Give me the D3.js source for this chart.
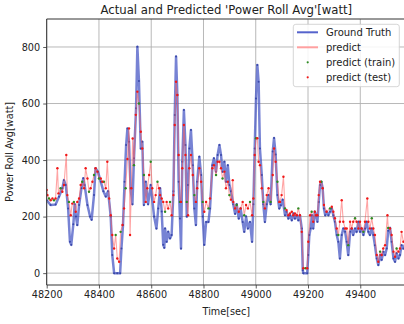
<!DOCTYPE html>
<html><head><meta charset="utf-8">
<script src="https://cdn.jsdelivr.net/npm/d3@7"></script>
<style>body{margin:0;background:#fff}svg{display:block;font-family:"DejaVu Sans",sans-serif}</style>
</head><body><svg id="c" width="404" height="324"></svg>
<script>
const title = "Actual and Predicted 'Power Roll Avg'[watt]";
const xLabel = "Time[sec]";
const yLabel = "Power Roll Avg[watt]";
const xTicks = [48200,48400,48600,48800,49000,49200,49400];
const yTicks = [0,200,400,600,800];
const legendLabels = ["Ground Truth","predict","predict (train)","predict (test)"];

const truthT = [48200,48215,48234,48247,48260,48266,48273,48282,48289,48294,48302,48307,48312,48317,48324,48333,48340,48345,48356,48366,48372,48381,48387,48396,48407,48417,48426,48435,48445,48451,48458,48470,48481,48486,48492,48498,48504,48509,48515,48521,48528,48534,48542,48547,48553,48560,48566,48572,48579,48588,48598,48611,48620,48627,48634,48640,48646,48650,48653,48659,48665,48672,48678,48685,48690,48695,48700,48705,48710,48714,48719,48725,48731,48736,48741,48746,48752,48759,48765,48771,48776,48784,48791,48797,48803,48810,48819,48825,48834,48840,48848,48854,48861,48867,48873,48880,48886,48893,48899,48905,48914,48921,48927,48935,48942,48950,48956,48963,48970,48978,48986,48991,48996,49001,49006,49011,49016,49023,49029,49035,49042,49049,49057,49065,49070,49076,49083,49090,49096,49103,49112,49118,49125,49131,49138,49144,49150,49157,49163,49169,49176,49180,49182,49197,49201,49205,49210,49215,49220,49226,49231,49236,49241,49246,49251,49256,49261,49266,49271,49278,49284,49291,49297,49303,49310,49316,49322,49329,49335,49342,49348,49354,49361,49367,49373,49380,49386,49393,49399,49405,49412,49418,49424,49431,49437,49444,49450,49456,49463,49469,49476,49482,49488,49495,49501,49507,49514,49520,49527,49533,49539,49546,49552,49558,49565,49575];
const truthV = [258,241,243,270,300,329,312,229,111,100,173,244,200,170,241,300,336,312,241,200,189,276,371,359,323,290,271,290,200,64,0,0,0,87,170,323,453,512,465,300,244,406,583,801,680,441,465,241,323,244,312,200,158,229,300,218,100,90,158,111,146,123,135,290,559,766,630,323,193,87,394,577,453,200,312,441,506,382,229,170,323,412,347,200,100,181,181,229,382,406,359,418,453,418,359,394,323,382,312,290,244,210,244,193,229,181,146,200,158,181,111,244,441,618,736,677,441,347,244,181,244,276,244,430,478,420,276,229,240,260,205,217,193,205,187,211,193,205,187,205,158,10,0,0,64,135,158,205,158,217,205,182,252,312,323,300,229,205,217,205,217,229,205,182,135,111,52,135,158,146,111,64,146,158,135,158,146,182,146,158,135,158,182,146,135,158,135,99,52,29,64,47,76,64,87,150,160,111,52,40,70,52,64,99,87,110];

const predT = [48200,48203,48209,48215,48222,48228,48234,48241,48245,48253,48260,48266,48275,48279,48285,48292,48298,48304,48311,48317,48324,48330,48336,48343,48349,48356,48362,48368,48375,48381,48387,48394,48400,48407,48413,48419,48426,48432,48439,48445,48451,48458,48464,48470,48477,48483,48490,48496,48502,48509,48515,48519,48524,48529,48534,48541,48547,48553,48560,48566,48572,48579,48585,48592,48598,48604,48611,48617,48624,48630,48634,48640,48646,48653,48659,48665,48672,48678,48685,48690,48695,48700,48705,48710,48714,48719,48725,48731,48736,48741,48746,48752,48759,48765,48771,48776,48784,48791,48797,48803,48810,48819,48825,48834,48840,48848,48854,48861,48867,48873,48880,48886,48893,48899,48905,48912,48914,48921,48927,48935,48942,48950,48956,48963,48970,48978,48986,48991,48996,49001,49006,49011,49016,49023,49029,49035,49042,49049,49057,49065,49070,49076,49083,49090,49093,49099,49106,49112,49118,49125,49131,49138,49144,49150,49157,49163,49169,49176,49182,49190,49197,49201,49208,49214,49220,49226,49231,49236,49241,49246,49251,49256,49261,49271,49284,49291,49297,49303,49310,49316,49322,49329,49335,49342,49348,49354,49361,49367,49373,49380,49386,49393,49399,49405,49412,49418,49427,49431,49437,49444,49450,49456,49463,49469,49476,49482,49488,49495,49504,49507,49514,49520,49527,49533,49539,49546,49552,49558,49565,49574];
const predV = [294,276,264,258,264,258,264,371,282,300,288,312,418,276,252,205,246,252,217,252,264,312,323,300,371,335,288,300,323,347,371,359,335,335,323,323,300,394,264,205,135,87,135,52,40,146,170,229,300,404,512,135,300,476,382,560,642,600,500,441,347,252,300,347,394,300,252,276,323,300,276,264,252,217,252,229,252,205,276,524,677,630,418,252,252,371,524,418,252,205,371,418,347,276,252,300,371,323,252,217,252,229,264,371,382,347,394,394,371,335,359,300,323,276,260,329,252,229,241,217,229,252,205,241,229,252,205,264,418,477,477,394,382,300,252,229,276,300,252,347,441,394,323,252,252,276,341,229,223,205,211,217,205,211,205,229,205,146,17,17,17,111,205,217,182,217,205,205,276,323,323,300,241,217,229,235,217,194,158,135,182,258,182,158,158,99,182,158,182,194,182,158,182,158,146,182,264,182,158,194,158,135,64,40,76,64,87,99,205,160,158,135,76,58,87,76,87,146,111,120];
const trainT = [48209,48228,48253,48285,48304,48336,48362,48381,48400,48419,48464,48483,48502,48534,48553,48572,48598,48624,48653,48672,48710,48736,48765,48797,48819,48848,48873,48899,48927,48956,48978,49001,49029,49057,49083,49112,49163,49190,49214,49251,49284,49316,49354,49380,49412,49444,49476,49507,49539];

const svg = d3.select("#c");
const m = {left:46.7, top:19, right:406, bottom:285};
const x = d3.scaleLinear().domain([48200,49575]).range([m.left,m.right]);
const y = d3.scaleLinear().domain([-42,899]).range([m.bottom,m.top]);

svg.append("defs").append("clipPath").attr("id","clip").append("rect")
  .attr("x",m.left).attr("y",m.top).attr("width",m.right-m.left).attr("height",m.bottom-m.top);

const g = svg.append("g");
g.selectAll(".gx").data(xTicks).join("line").attr("x1",d=>x(d)).attr("x2",d=>x(d))
  .attr("y1",m.top).attr("y2",m.bottom).attr("stroke","#b0b0b0").attr("stroke-width",0.9);
g.selectAll(".gy").data(yTicks).join("line").attr("y1",d=>y(d)).attr("y2",d=>y(d))
  .attr("x1",m.left).attr("x2",m.right).attr("stroke","#b0b0b0").attr("stroke-width",0.9);

const plot = svg.append("g").attr("clip-path","url(#clip)");
const truth = truthT.map((t,i)=>[t,truthV[i]]);
const pred = predT.map((t,i)=>[t,predV[i]]);
const trainSet = new Set(trainT);
const line = d3.line().x(d=>x(d[0])).y(d=>y(d[1]));
plot.append("path").attr("d",line(truth)).attr("fill","none").attr("stroke","#4353c4")
  .attr("stroke-opacity",0.72).attr("stroke-width",2.5).attr("stroke-linejoin","round");
plot.selectAll(".td").data(truth).join("circle").attr("cx",d=>x(d[0])).attr("cy",d=>y(d[1]))
  .attr("r",1).attr("fill","#2b3a9e").attr("opacity",0.8);
plot.append("path").attr("d",line(pred)).attr("fill","none").attr("stroke","#ff5a5a")
  .attr("stroke-opacity",0.55).attr("stroke-width",1.1);
plot.selectAll(".tr").data(pred.filter(d=>trainSet.has(d[0]))).join("circle")
  .attr("cx",d=>x(d[0])).attr("cy",d=>y(d[1])).attr("r",1.2).attr("fill","#2e8b22");
plot.selectAll(".te").data(pred.filter(d=>!trainSet.has(d[0]))).join("circle")
  .attr("cx",d=>x(d[0])).attr("cy",d=>y(d[1])).attr("r",1.2).attr("fill","#f01818");

const xa = svg.append("g").attr("transform",`translate(0,${m.bottom})`)
  .call(d3.axisBottom(x).tickValues(xTicks).tickFormat(d3.format("d")).tickSize(3.5).tickPadding(3));
const ya = svg.append("g").attr("transform",`translate(${m.left},0)`)
  .call(d3.axisLeft(y).tickValues(yTicks).tickFormat(d3.format("d")).tickSize(3.5).tickPadding(3));
[xa,ya].forEach(a=>{
  a.select(".domain").remove();
  a.selectAll("text").attr("font-size","9.7px").attr("fill","#222").attr("font-family","DejaVu Sans");
  a.selectAll("line").attr("stroke","#333").attr("stroke-width",0.8);
});
svg.append("line").attr("x1",m.left).attr("x2",m.left).attr("y1",m.top).attr("y2",m.bottom).attr("stroke","#333").attr("stroke-width",1);
svg.append("line").attr("x1",m.left).attr("x2",m.right).attr("y1",m.bottom).attr("y2",m.bottom).attr("stroke","#333").attr("stroke-width",1);
svg.append("line").attr("x1",m.left).attr("x2",m.right).attr("y1",m.top).attr("y2",m.top).attr("stroke","#333").attr("stroke-width",1);
svg.append("line").attr("x1",m.right).attr("x2",m.right).attr("y1",m.top).attr("y2",m.bottom).attr("stroke","#333").attr("stroke-width",1);

svg.append("text").attr("x",(m.left+m.right)/2).attr("y",14).attr("text-anchor","middle")
  .attr("font-size","11.7px").attr("fill","#222").text(title);
svg.append("text").attr("x",(m.left+m.right)/2).attr("y",315).attr("text-anchor","middle")
  .attr("font-size","9.7px").attr("fill","#222").text(xLabel);
svg.append("text").attr("transform",`translate(13,${(m.top+m.bottom)/2}) rotate(-90)`).attr("text-anchor","middle")
  .attr("font-size","9.7px").attr("fill","#222").text(yLabel);

const lg = svg.append("g");
lg.append("rect").attr("x",293.3).attr("y",24.3).attr("width",106).attr("height",62.4).attr("rx",2.5)
  .attr("fill","#fff").attr("fill-opacity",0.85).attr("stroke","#cccccc").attr("stroke-width",0.8);
const rows = [32.3,47.3,62.3,77.3];
lg.append("line").attr("x1",297).attr("x2",318).attr("y1",rows[0]).attr("y2",rows[0]).attr("stroke","#5563cc").attr("stroke-width",2);
lg.append("line").attr("x1",297).attr("x2",318).attr("y1",rows[1]).attr("y2",rows[1]).attr("stroke","#ffa0a0").attr("stroke-width",2);
lg.append("circle").attr("cx",307.7).attr("cy",rows[2]).attr("r",1.1).attr("fill","#2e8b22");
lg.append("circle").attr("cx",307.7).attr("cy",rows[3]).attr("r",1.1).attr("fill","#f01818");
lg.selectAll(".lt").data(legendLabels).join("text").attr("x",326).attr("y",(d,i)=>rows[i]+3.6)
  .attr("font-size","10px").attr("fill","#222").text(d=>d);
</script></body></html>
